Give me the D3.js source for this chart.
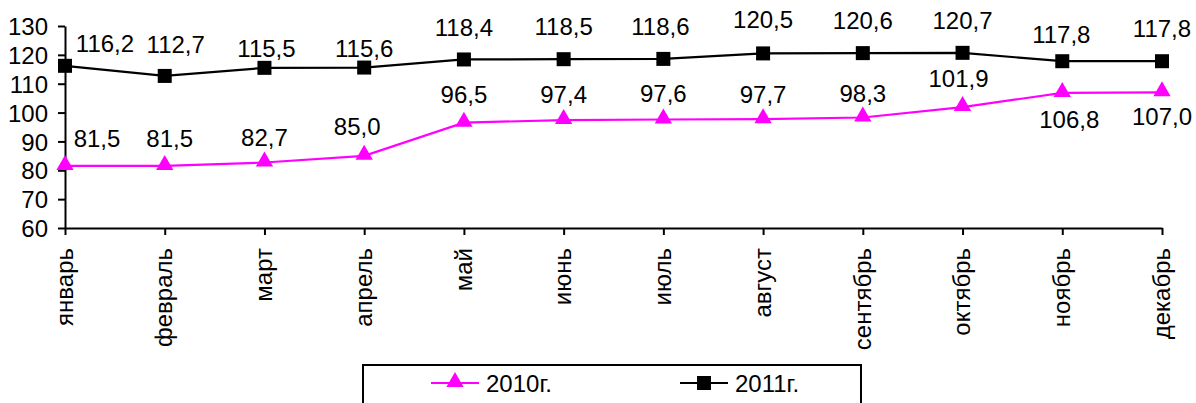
<!DOCTYPE html>
<html>
<head>
<meta charset="utf-8">
<script src="https://cdn.jsdelivr.net/npm/d3@7"></script>
<style>
  body { margin: 0; background: #fff; }
  text { font-family: "Liberation Sans", Arial, sans-serif; }
</style>
</head>
<body>
<div id="chart"></div>
<script>
// data
var months = ["январь", "февраль", "март", "апрель", "май", "июнь", "июль", "август", "сентябрь", "октябрь", "ноябрь", "декабрь"];
var values2010 = [81.5, 81.5, 82.7, 85.0, 96.5, 97.4, 97.6, 97.7, 98.3, 101.9, 106.8, 107.0];
var values2011 = [116.2, 112.7, 115.5, 115.6, 118.4, 118.5, 118.6, 120.5, 120.6, 120.7, 117.8, 117.8];
var yTicks = [60, 70, 80, 90, 100, 110, 120, 130];

// label nudges (px) - placed by hand like in the original
var lab2010 = [[32, -19], [5, -19], [0, -16], [-7, -21], [0, -20], [0, -17], [0, -17], [0, -16], [0, -15], [-4, -20], [7, 35], [0, 33]];
var lab2011 = [[40, -14], [11, -23], [2, -11], [0, -11], [0, -23], [0, -24], [-3, -24], [0, -25], [0, -24], [0, -24], [-1, -18], [0, -24]];

var svgWidth = 1196;
var svgHeight = 403;
var fontSize = 24;

var svg = d3.select("#chart")
  .append("svg")
    .attr("width", svgWidth)
    .attr("height", svgHeight);

var x = d3.scalePoint()
  .domain(months)
  .range([65, 1162]);

var y = d3.scaleLinear()
  .domain([60, 130])
  .range([228, 26]);

// y axis
var leftAxis = d3.axisLeft(y).tickValues(yTicks).tickSize(7).tickSizeOuter(0).tickPadding(10);
var yG = svg.append("g")
  .attr("transform", "translate(65,0)")
  .call(leftAxis);
yG.selectAll("text").style("font-size", fontSize + "px").attr("fill", "#000").attr("dy", "0.36em");

// x axis
var bottomAxis = d3.axisBottom(x).tickSize(7).tickSizeOuter(0);
var xG = svg.append("g")
  .attr("transform", "translate(0,228)")
  .call(bottomAxis);
xG.selectAll("text")
  .style("font-size", fontSize + "px")
  .attr("fill", "#000")
  .attr("transform", "rotate(-90)")
  .attr("x", -20)
  .attr("y", 0)
  .attr("dy", "0.3em")
  .style("text-anchor", "end");

svg.selectAll(".domain, .tick line").attr("stroke", "#000").attr("stroke-width", 2);

var line = d3.line()
  .x(function(d, i) { return x(months[i]); })
  .y(function(d) { return y(d); });

// 2010 line
svg.append("path")
  .datum(values2010)
  .attr("d", line)
  .attr("fill", "none")
  .attr("stroke", "#ff00ff")
  .attr("stroke-width", 2.2);

// 2011 line
svg.append("path")
  .datum(values2011)
  .attr("d", line)
  .attr("fill", "none")
  .attr("stroke", "#000")
  .attr("stroke-width", 2.2);

var tri = d3.symbol().type(d3.symbolTriangle).size(130);

svg.selectAll(".m2010")
  .data(values2010)
  .enter()
  .append("path")
  .attr("d", tri)
  .attr("transform", function(d, i) { return "translate(" + x(months[i]) + "," + (y(d) - 1) + ")"; })
  .attr("fill", "#ff00ff");

svg.selectAll(".m2011")
  .data(values2011)
  .enter()
  .append("rect")
  .attr("x", function(d, i) { return x(months[i]) - 7; })
  .attr("y", function(d) { return y(d) - 7; })
  .attr("width", 14)
  .attr("height", 14)
  .attr("fill", "#000");

function fmt(v) {
  return v.toFixed(1).replace(".", ",");
}

svg.selectAll(".l2010")
  .data(values2010)
  .enter()
  .append("text")
  .attr("x", function(d, i) { return x(months[i]) + lab2010[i][0]; })
  .attr("y", function(d, i) { return y(d) + lab2010[i][1]; })
  .attr("text-anchor", "middle")
  .style("font-size", fontSize + "px")
  .text(fmt);

svg.selectAll(".l2011")
  .data(values2011)
  .enter()
  .append("text")
  .attr("x", function(d, i) { return x(months[i]) + lab2011[i][0]; })
  .attr("y", function(d, i) { return y(d) + lab2011[i][1]; })
  .attr("text-anchor", "middle")
  .style("font-size", fontSize + "px")
  .text(fmt);

// legend
var legend = svg.append("g");
legend.append("rect")
  .attr("x", 363)
  .attr("y", 365)
  .attr("width", 498)
  .attr("height", 60)
  .attr("fill", "#fff")
  .attr("stroke", "#000")
  .attr("stroke-width", 2);

var items = [
  {name: "2010г.", color: "#ff00ff", x: 431, marker: "tri"},
  {name: "2011г.", color: "#000", x: 680, marker: "sq"}
];

items.forEach(function(it) {
  legend.append("line")
    .attr("x1", it.x).attr("x2", it.x + 48)
    .attr("y1", 383).attr("y2", 383)
    .attr("stroke", it.color)
    .attr("stroke-width", 2.2);
  if (it.marker == "tri") {
    legend.append("path")
      .attr("d", tri)
      .attr("transform", "translate(" + (it.x + 24) + ",382)")
      .attr("fill", it.color);
  } else {
    legend.append("rect")
      .attr("x", it.x + 17).attr("y", 376)
      .attr("width", 14).attr("height", 14)
      .attr("fill", it.color);
  }
  legend.append("text")
    .attr("x", it.x + 55)
    .attr("y", 392)
    .style("font-size", fontSize + "px")
    .text(it.name);
});
</script>
</body>
</html>
